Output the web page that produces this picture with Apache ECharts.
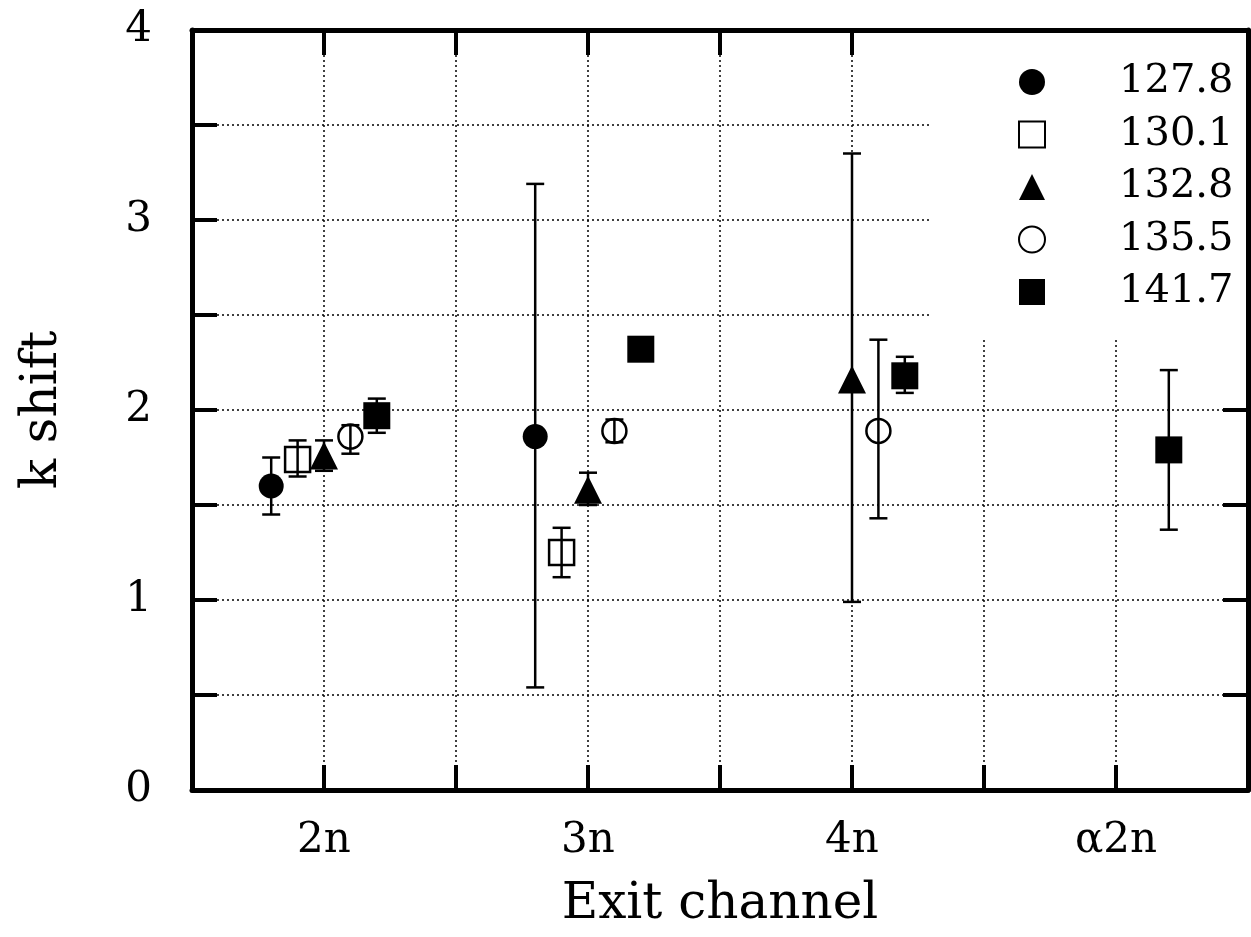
<!DOCTYPE html>
<html>
<head>
<meta charset="utf-8">
<script src="https://cdn.jsdelivr.net/npm/echarts@6/dist/echarts.min.js"></script>
<style>
  html, body { margin: 0; padding: 0; background: #fff; }
  #chart { width: 1251px; height: 937px; }
</style>
</head>
<body>
<div id="chart"></div>
<script>
// Exit channels and beam energies
const channels = ['2n', '3n', '4n', 'α2n'];
const energies = ['127.8', '130.1', '132.8', '135.5', '141.7'];

// k shift per exit channel (null = not measured), with lower / upper error limits
const kShift_127_8 = [1.60, 1.86, null, null];
const errLo_127_8  = [1.45, 0.54, null, null];
const errHi_127_8  = [1.75, 3.19, null, null];

const kShift_130_1 = [1.74, 1.25, null, null];
const errLo_130_1  = [1.65, 1.12, null, null];
const errHi_130_1  = [1.84, 1.38, null, null];

const kShift_132_8 = [1.76, 1.58, 2.16, null];
const errLo_132_8  = [1.68, 1.50, 0.99, null];
const errHi_132_8  = [1.84, 1.67, 3.35, null];

const kShift_135_5 = [1.86, 1.89, 1.89, null];
const errLo_135_5  = [1.77, 1.83, 1.43, null];
const errHi_135_5  = [1.92, 1.95, 2.37, null];

const kShift_141_7 = [1.97, 2.32, 2.18, 1.79];
const errLo_141_7  = [1.88, null, 2.09, 1.37];
const errHi_141_7  = [2.06, null, 2.28, 2.21];

// Y tick labels shown at integer values
const yTickLabels = ['0', '1', '2', '3', '4'];

// ---- layout / styling ----
const channelPos = [1, 3, 5, 7];           // channel centres on the x scale
const FONT = 'DejaVu Serif';

const seriesDefs = [
  { name: energies[0], val: kShift_127_8, lo: errLo_127_8, hi: errHi_127_8, dx: -0.4, symbol: 'circle', size: 25, open: false },
  { name: energies[1], val: kShift_130_1, lo: errLo_130_1, hi: errHi_130_1, dx: -0.2, symbol: 'rect', size: 25, open: true },
  { name: energies[2], val: kShift_132_8, lo: errLo_132_8, hi: errHi_132_8, dx: 0.0, symbol: 'triangle', size: 28, open: false },
  { name: energies[3], val: kShift_135_5, lo: errLo_135_5, hi: errHi_135_5, dx: 0.2, symbol: 'circle', size: 24, open: true },
  { name: energies[4], val: kShift_141_7, lo: errLo_141_7, hi: errHi_141_7, dx: 0.4, symbol: 'rect', size: 27, open: false }
];

function errorBarItem(params, api) {
  const x = api.value(0);
  const p1 = api.coord([x, api.value(1)]);
  const p2 = api.coord([x, api.value(2)]);
  const cap = 9;
  const st = { stroke: '#000', lineWidth: 2.5 };
  return {
    type: 'group',
    children: [
      { type: 'line', shape: { x1: p1[0], y1: p1[1], x2: p2[0], y2: p2[1] }, style: st },
      { type: 'line', shape: { x1: p1[0] - cap, y1: p1[1], x2: p1[0] + cap, y2: p1[1] }, style: st },
      { type: 'line', shape: { x1: p2[0] - cap, y1: p2[1], x2: p2[0] + cap, y2: p2[1] }, style: st }
    ]
  };
}

const series = [];
seriesDefs.forEach(function (d) {
  const pts = [];
  const bars = [];
  d.val.forEach(function (v, i) {
    if (v == null) return;
    const x = channelPos[i] + d.dx;
    pts.push([x, v]);
    if (d.lo[i] != null && d.hi[i] != null) bars.push([x, d.lo[i], d.hi[i]]);
  });
  series.push({
    name: d.name,
    type: 'scatter',
    symbol: d.symbol,
    symbolSize: d.size,
    z: 3,
    itemStyle: d.open
      ? { color: '#fff', borderColor: '#000', borderWidth: 2.5, opacity: 1 }
      : { color: '#000', opacity: 1 },
    data: pts
  });
  series.push({
    name: 'bars ' + d.name,
    type: 'custom',
    renderItem: errorBarItem,
    z: 4,
    encode: { x: 0, y: [1, 2] },
    data: bars
  });
});

const axisLineStyle = { color: '#000', width: 5 };
const innerTicks = { show: true, inside: true, length: 25, lineStyle: { color: '#000', width: 4 } };
const gridDots = { color: '#000', width: 1.5, type: [2, 3] };

const option = {
  backgroundColor: '#fff',
  animation: false,
  grid: { left: 192, right: 2, top: 30, bottom: 147 },
  legend: {
    orient: 'vertical',
    left: 929,
    top: 33,
    z: 5,
    backgroundColor: '#fff',
    padding: [23, 7, 20, 89],
    itemWidth: 26,
    itemHeight: 26,
    itemGap: 0.5,
    selectedMode: false,
    data: seriesDefs.map(function (d) { return { name: d.name, icon: d.symbol }; }),
    textStyle: {
      fontFamily: FONT,
      fontSize: 40,
      color: '#000',
      lineHeight: 52,
      width: 120,
      padding: [0, 0, 0, 69]
    }
  },
  xAxis: [
    {
      type: 'value',
      position: 'bottom',
      min: 0, max: 8, interval: 1,
      axisLine: { show: true, onZero: false, lineStyle: axisLineStyle },
      axisTick: innerTicks,
      splitLine: { show: true, lineStyle: gridDots },
      axisLabel: {
        inside: false,
        margin: 30,
        fontFamily: FONT,
        fontSize: 42,
        color: '#000',
        formatter: function (v) {
          const i = channelPos.indexOf(Math.round(v));
          return i >= 0 ? channels[i] : '';
        }
      },
      name: 'Exit channel',
      nameLocation: 'middle',
      nameGap: 90,
      nameTextStyle: { fontFamily: FONT, fontSize: 50, color: '#000' }
    },
    {
      type: 'value',
      position: 'top',
      min: 0, max: 8, interval: 1,
      axisLine: { show: true, onZero: false, lineStyle: axisLineStyle },
      axisTick: innerTicks,
      splitLine: { show: false },
      axisLabel: { show: false }
    }
  ],
  yAxis: [
    {
      type: 'value',
      position: 'left',
      min: 0, max: 4, interval: 0.5,
      axisLine: { show: true, onZero: false, lineStyle: axisLineStyle },
      axisTick: innerTicks,
      splitLine: { show: true, lineStyle: gridDots },
      axisLabel: {
        inside: false,
        margin: 40,
        fontFamily: FONT,
        fontSize: 42,
        color: '#000',
        formatter: function (v) {
          return Number.isInteger(v) ? yTickLabels[v] : '';
        }
      },
      name: 'k shift',
      nameLocation: 'middle',
      nameGap: 124,
      nameTextStyle: { fontFamily: FONT, fontSize: 50, color: '#000' }
    },
    {
      type: 'value',
      position: 'right',
      min: 0, max: 4, interval: 0.5,
      axisLine: { show: true, onZero: false, lineStyle: axisLineStyle },
      axisTick: innerTicks,
      splitLine: { show: false },
      axisLabel: { show: false }
    }
  ],
  series: series
};

const chart = echarts.init(document.getElementById('chart'), null, { renderer: 'canvas' });
chart.setOption(option);
</script>
</body>
</html>
